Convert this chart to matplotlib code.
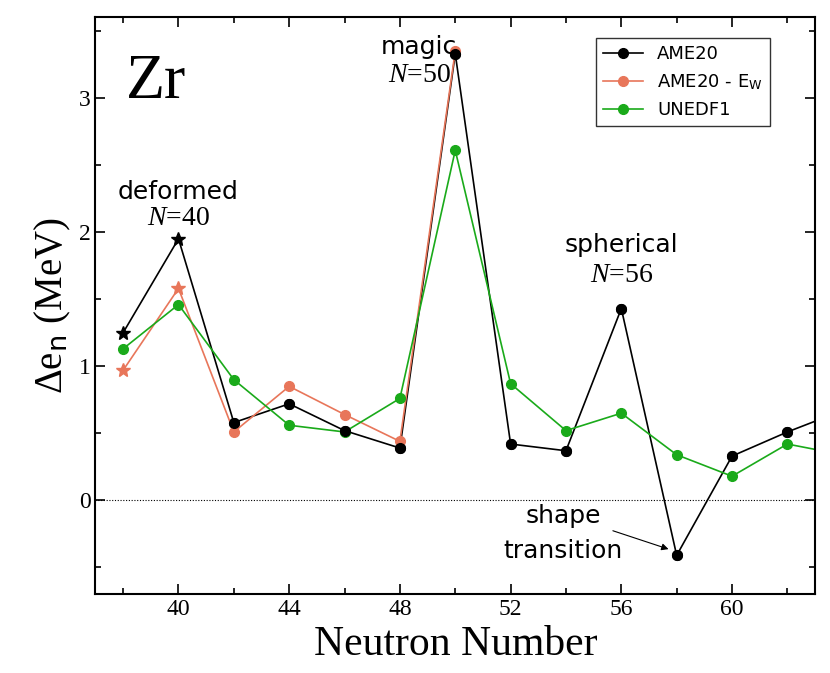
import matplotlib.pyplot as plt

N = [38, 40, 42, 44, 46, 48, 50, 52, 54, 56, 58, 60, 62, 64]
ame20 = [1.25, 1.95, 0.58, 0.72, 0.52, 0.39, 3.33, 0.42, 0.37, 1.43, -0.41, 0.33, 0.51, 0.67]
N_ew = [38, 40, 42, 44, 46, 48, 50]
ame20_ew = [0.97, 1.58, 0.51, 0.85, 0.64, 0.44, 3.35]
unedf1 = [1.13, 1.46, 0.90, 0.56, 0.51, 0.76, 2.61, 0.87, 0.52, 0.65, 0.34, 0.18, 0.42, 0.34]

serif = 'Liberation Serif'
plt.rcParams['mathtext.fontset'] = 'custom'
plt.rcParams['mathtext.rm'] = 'Liberation Serif'
plt.rcParams['mathtext.it'] = 'Liberation Serif:italic'

fig = plt.figure(figsize=(8.3, 6.73), dpi=100)
ax = fig.add_axes([0.115, 0.117, 0.867, 0.857])

ax.axhline(0, color='black', lw=0.8, ls=(0, (1, 1.5)))

# lines, with stars for first two points
ax.plot(N, ame20, color='black', lw=1.2, label='AME20', marker='o', ms=7, markevery=list(range(2, len(N))))
ax.plot(N[:2], ame20[:2], ls='none', marker='*', ms=10, color='black')
ax.plot(N_ew, ame20_ew, color='#e8765a', lw=1.2, label='AME20 - E$_\\mathsf{W}$', marker='o', ms=7,
        markevery=list(range(2, len(N_ew))))
ax.plot(N_ew[:2], ame20_ew[:2], ls='none', marker='*', ms=10, color='#e8765a')
ax.plot(N, unedf1, color='#1aaa1a', lw=1.2, label='UNEDF1', marker='o', ms=7)
# redraw black points on top
ax.plot(N[2:], ame20[2:], ls='none', marker='o', ms=7, color='black')

ax.set_xlim(37, 63)
ax.set_ylim(-0.7, 3.6)
ax.set_xticks([40, 44, 48, 52, 56, 60])
ax.set_yticks([0, 1, 2, 3])
ax.set_xticks(range(38, 63, 2), minor=True)
ax.set_yticks([-0.5, 0.5, 1.5, 2.5, 3.5], minor=True)
ax.tick_params(direction='in', which='both', top=True, right=True, labelsize=17, width=1.2)
ax.tick_params(which='major', length=7)
ax.tick_params(which='minor', length=4)
for lbl in ax.get_xticklabels() + ax.get_yticklabels():
    lbl.set_family(serif)
for s in ax.spines.values():
    s.set_linewidth(1.5)

ax.set_xlabel('Neutron Number', fontsize=30, family=serif)
ax.set_ylabel('$\\Delta$e$_\\mathsf{n}$ (MeV)', fontsize=28, family=serif)

ax.text(38.1, 3.0, 'Zr', fontsize=46, family=serif)
ax.text(40, 2.25, 'deformed', fontsize=18, ha='center')
ax.text(40, 2.05, '$N$=40', fontsize=20, ha='center', family=serif)
ax.text(48.7, 3.33, 'magic', fontsize=18, ha='center')
ax.text(48.7, 3.12, '$N$=50', fontsize=20, ha='center', family=serif)
ax.text(56, 1.85, 'spherical', fontsize=18, ha='center')
ax.text(56, 1.63, '$N$=56', fontsize=20, ha='center', family=serif)
ax.text(53.9, -0.17, 'shape', fontsize=18, ha='center')
ax.text(53.9, -0.43, 'transition', fontsize=18, ha='center')
ax.annotate('', xy=(57.8, -0.37), xytext=(55.6, -0.22),
            arrowprops=dict(arrowstyle='-|>', color='black', lw=0.8))

leg = ax.legend(loc='upper right', fontsize=13, frameon=True, fancybox=False,
                edgecolor='black', bbox_to_anchor=(0.95, 0.98), handlelength=2.2)
leg.get_frame().set_linewidth(1.0)

fig.savefig('out.png', dpi=100)
